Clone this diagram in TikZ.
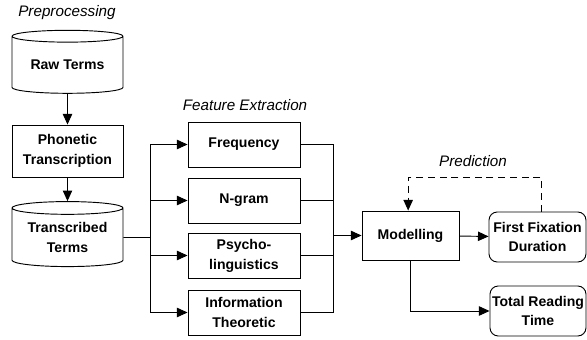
\documentclass[tikz,border=0pt]{standalone}
\usepackage{fontspec}
\setmainfont{Liberation Sans}
\usetikzlibrary{shapes.geometric, arrows.meta, positioning}

\tikzset{
  block/.style={draw, line width=0.8pt, align=center, inner sep=0pt,
    font=\fontsize{12}{17}\selectfont\bfseries},
  store/.style={block, cylinder, shape border rotate=90, aspect=0.16},
  result/.style={block, rounded corners=7pt},
  phase/.style={font=\fontsize{13}{15}\selectfont\itshape},
  arrow/.style={-{Triangle[length=9pt,width=8pt]}, line width=0.8pt},
  link/.style={line width=0.8pt}
}

\begin{document}
\begin{tikzpicture}[x=0.03cm, y=-0.03cm]
\useasboundingbox (0,0) rectangle (587,340);

% preprocessing
\node[phase] (prelabel) at (67,13) {Preprocessing};
\node[store, minimum width=3.33cm, minimum height=1.89cm] (raw) at (67.5,65) {Raw Terms};
\node[block, minimum width=3.33cm, minimum height=1.56cm] (phon) at (67.5,151) {Phonetic\\Transcription};
\node[store, minimum width=3.33cm, minimum height=1.95cm] (trans) at (67.5,237.5) {Transcribed\\Terms};
\draw[arrow] (raw) -- (phon);
\draw[arrow] (phon) -- (trans);

% feature extraction
\node[phase] (featlabel) at (245,105) {Feature Extraction};
\node[block, minimum width=3.36cm, minimum height=1.35cm] (freq) at (244,144.5) {Frequency};
\node[block, minimum width=3.36cm, minimum height=1.35cm] (ngram) at (244,200.5) {N-gram};
\node[block, minimum width=3.36cm, minimum height=1.35cm] (psych) at (244,255.5) {Psycho-\\linguistics};
\node[block, minimum width=3.36cm, minimum height=1.35cm] (info) at (244,312.5) {Information\\Theoretic};
\coordinate (split) at (150,237.5);
\coordinate (merge) at (333,235.5);
\draw[link] (trans) -- (split);
\foreach \n in {freq,ngram,psych,info} {
  \draw[arrow] (split) |- (\n.west);
  \draw[link] (\n.east) -| (merge);
}

% prediction
\node[phase] (predlabel) at (473,161) {Prediction};
\node[block, minimum width=2.91cm, minimum height=1.47cm] (model) at (410.5,235.5) {Modelling};
\node[result, minimum width=2.91cm, minimum height=1.5cm] (ffd) at (537.5,237) {First Fixation\\Duration};
\node[result, minimum width=2.88cm, minimum height=1.5cm] (trt) at (538,311) {Total Reading\\Time};
\draw[arrow] (merge) -- (model);
\draw[arrow] (model) -- (ffd);
\draw[arrow] (model.south) |- (trt.west);
\draw[arrow, dash pattern=on 6pt off 4pt] ([xshift=0.12cm]ffd.north) -- ++(0,-34) -| ([xshift=-0.07cm]model.north);
\end{tikzpicture}
\end{document}
